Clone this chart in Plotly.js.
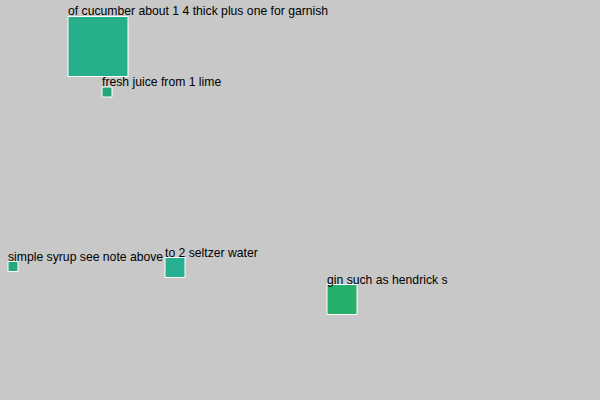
<!DOCTYPE html>
<html>
<head>
<meta charset="utf-8">
<script src="https://cdn.plot.ly/plotly-3.0.1.min.js"></script>
<style>html,body{margin:0;padding:0;background:#c8c8c8;}#chart{width:600px;height:400px;}</style>
</head>
<body>
<div id="chart"></div>
<script>
var labels = ["of cucumber about 1 4 thick plus one for garnish", "fresh juice from 1 lime", "simple syrup see note above", "to 2 seltzer water", "gin such as hendrick s"];
var xVals = [68, 102, 8, 165, 327];
var yVals = [16.5, 87, 261.5, 257.5, 284.5];
var sizes = [60, 10, 10, 20, 30];
var colors = ["#27ae8a", "#23a57c", "#25a880", "#27b092", "#26b06b"];

var cx = xVals.map(function(v, i){ return v + sizes[i] / 2; });
var cy = yVals.map(function(v, i){ return v + sizes[i] / 2; });

var trace = {
  type: "scatter",
  mode: "markers",
  x: cx,
  y: cy,
  marker: {symbol: "square", size: sizes, color: colors, opacity: 1, line: {color: "#ffffff", width: 1}},
  hoverinfo: "skip",
  showlegend: false
};

var annotations = labels.map(function(t, i){
  return {
    x: xVals[i], y: yVals[i], xref: "x", yref: "y",
    text: t, showarrow: false, xanchor: "left", yanchor: "bottom",
    xshift: -1, yshift: -3,
    borderpad: 0, font: {family: "Liberation Sans, Arial, sans-serif", size: 12.2, color: "#000000"}
  };
});

var layout = {
  width: 600, height: 400,
  margin: {l: 0, r: 0, t: 0, b: 0},
  paper_bgcolor: "#c8c8c8",
  plot_bgcolor: "#c8c8c8",
  xaxis: {range: [0, 600], visible: false, fixedrange: true},
  yaxis: {range: [400, 0], visible: false, fixedrange: true},
  annotations: annotations,
  showlegend: false
};

Plotly.newPlot("chart", [trace], layout, {displayModeBar: false, staticPlot: true});
</script>
</body>
</html>
